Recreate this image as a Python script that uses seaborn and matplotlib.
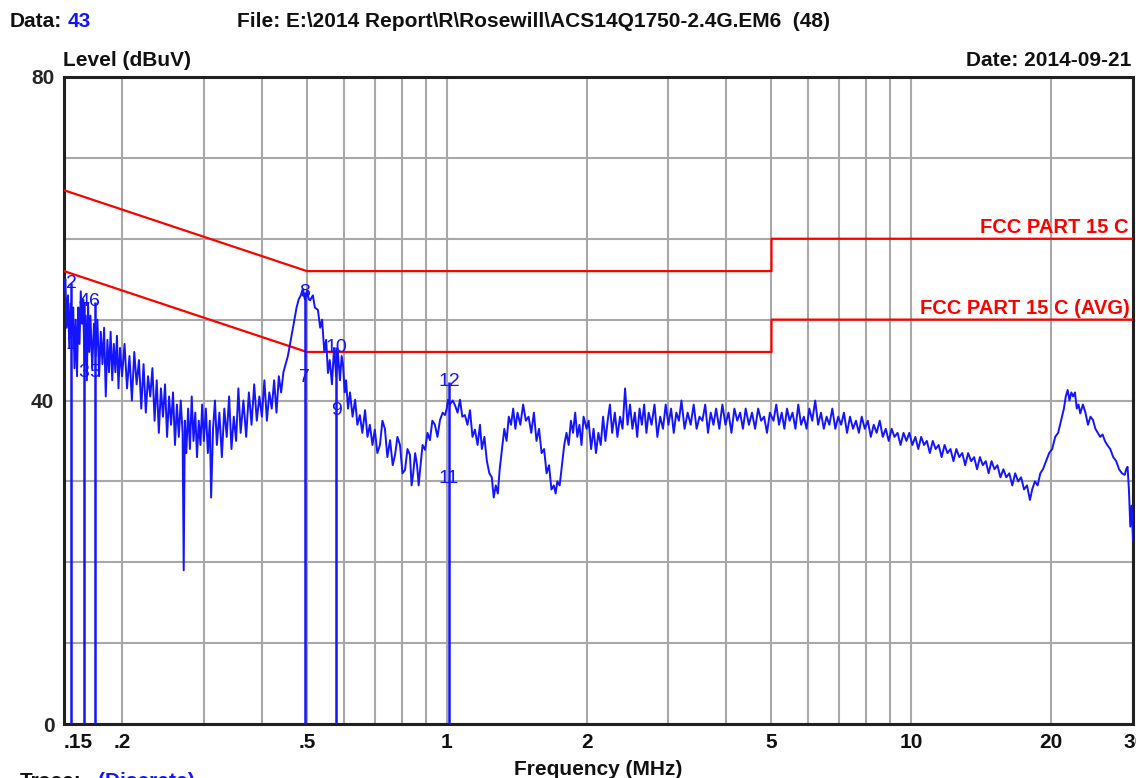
import matplotlib
matplotlib.use("Agg")
import matplotlib.pyplot as plt
from matplotlib.ticker import NullLocator
import numpy as np
import pandas as pd
import seaborn as sns

# ---------------- data ----------------
# trace segment 0.15 - 0.2 MHz
seg1_freq = [0.1500, 0.1510, 0.1520, 0.1530, 0.1540, 0.1550, 0.1560, 0.1570, 0.1580, 0.1590,
             0.1600, 0.1610, 0.1620, 0.1630, 0.1640, 0.1650, 0.1660, 0.1670, 0.1680, 0.1690,
             0.1700, 0.1710, 0.1725, 0.1740, 0.1755, 0.1770, 0.1785, 0.1800, 0.1815, 0.1830,
             0.1845, 0.1860, 0.1875, 0.1890, 0.1905, 0.1920, 0.1935, 0.1950, 0.1965, 0.1980, 0.2000]
seg1_level = [53.5, 55.0, 49.0, 53.0, 46.5, 52.0, 48.0, 51.5, 44.0, 50.0,
              43.0, 51.5, 47.0, 53.5, 49.5, 52.5, 44.5, 50.5, 42.5, 52.0,
              46.0, 50.5, 44.0, 49.5, 45.5, 50.0, 43.0, 48.5, 44.5, 49.0,
              40.5, 47.5, 43.5, 48.5, 42.5, 47.0, 43.5, 48.0, 41.5, 46.5, 43.0]

# trace segment 0.2 - 0.3 MHz
seg2_freq = [0.2025, 0.2050, 0.2075, 0.2100, 0.2125, 0.2150, 0.2175, 0.2200, 0.2225, 0.2250,
             0.2275, 0.2300, 0.2325, 0.2350, 0.2375, 0.2400, 0.2425, 0.2450, 0.2475, 0.2500,
             0.2525, 0.2550, 0.2575, 0.2600, 0.2625, 0.2650, 0.2675, 0.2700, 0.2715, 0.2730,
             0.2750, 0.2775, 0.2800, 0.2825, 0.2850, 0.2875, 0.2900, 0.2925, 0.2950, 0.2975, 0.3000]
seg2_level = [47.0, 41.5, 45.5, 40.0, 46.0, 42.0, 45.0, 39.0, 44.5, 38.5,
              43.0, 40.5, 44.0, 37.5, 42.5, 36.0, 41.5, 38.0, 42.0, 35.5,
              40.5, 37.0, 41.0, 34.5, 39.5, 35.5, 40.0, 36.0, 19.0, 37.5,
              33.5, 39.0, 34.0, 40.5, 35.0, 38.5, 33.0, 37.5, 34.5, 39.5, 35.0]

# trace segment 0.3 - 0.51 MHz
seg3_freq = [0.303, 0.306, 0.309, 0.311, 0.314, 0.317, 0.320, 0.324, 0.328, 0.332,
             0.336, 0.340, 0.344, 0.348, 0.352, 0.356, 0.360, 0.365, 0.370, 0.375,
             0.380, 0.385, 0.390, 0.395, 0.400, 0.405, 0.410, 0.415, 0.420, 0.425,
             0.430, 0.435, 0.440, 0.445, 0.450, 0.455, 0.460, 0.465, 0.470, 0.475,
             0.480, 0.485, 0.490, 0.495, 0.500, 0.505]
seg3_level = [39.0, 33.5, 37.5, 28.0, 36.5, 40.0, 34.5, 38.5, 33.0, 39.0,
              35.5, 40.5, 34.0, 38.0, 35.0, 41.5, 36.0, 40.0, 35.5, 41.0,
              37.0, 42.0, 37.5, 40.5, 38.0, 42.5, 37.5, 41.0, 39.0, 42.5,
              38.5, 43.0, 41.0, 43.5, 44.5, 45.5, 47.0, 48.5, 50.0, 51.5,
              52.5, 53.0, 53.8, 52.5, 53.5, 52.5]

# trace segment 0.51 - 1.18 MHz
seg4_freq = [0.508, 0.515, 0.520, 0.528, 0.534, 0.539, 0.545, 0.550, 0.555, 0.560,
             0.566, 0.572, 0.578, 0.583, 0.589, 0.594, 0.598, 0.603, 0.607, 0.613,
             0.619, 0.627, 0.635, 0.642, 0.650, 0.658, 0.667, 0.675, 0.683, 0.692,
             0.700, 0.709, 0.718, 0.727, 0.736, 0.745, 0.755, 0.765, 0.774, 0.783,
             0.793, 0.803, 0.813, 0.823, 0.833, 0.840, 0.846, 0.855, 0.863, 0.870,
             0.876, 0.887, 0.898, 0.909, 0.920, 0.931, 0.943, 0.955, 0.967, 0.980,
             0.991, 1.000, 1.006, 1.015, 1.030, 1.042, 1.055, 1.068, 1.080, 1.094,
             1.108, 1.122, 1.136, 1.150, 1.165, 1.179]
seg4_level = [52.4, 53.0, 51.5, 51.2, 49.0, 50.0, 46.0, 47.5, 43.4, 45.0,
              42.0, 46.5, 43.0, 46.0, 42.5, 45.5, 44.4, 41.0, 42.5, 39.0,
              41.0, 38.0, 40.1, 37.0, 38.2, 36.0, 38.8, 35.5, 37.0, 34.5,
              36.4, 33.5, 34.5, 37.5, 36.5, 33.0, 35.1, 32.0, 33.3, 35.5,
              34.5, 31.0, 31.4, 34.0, 33.3, 29.5, 30.8, 33.5, 32.0, 29.5,
              31.4, 34.5, 33.9, 36.0, 35.1, 37.5, 37.0, 35.5, 37.6, 38.5,
              38.2, 39.0, 40.1, 39.5, 40.0, 39.4, 38.5, 40.1, 38.0, 38.2,
              37.0, 38.8, 35.5, 36.4, 34.5, 37.0]

# trace segment 1.19 - 2 MHz
seg5_freq = [1.190, 1.205, 1.220, 1.235, 1.250, 1.262, 1.275, 1.288, 1.300, 1.315,
             1.330, 1.345, 1.360, 1.375, 1.390, 1.405, 1.420, 1.440, 1.460, 1.480,
             1.500, 1.520, 1.540, 1.560, 1.580, 1.600, 1.620, 1.640, 1.660, 1.680,
             1.700, 1.715, 1.730, 1.750, 1.770, 1.790, 1.810, 1.830, 1.850, 1.870,
             1.890, 1.910, 1.930, 1.950, 1.970, 2.000]
seg5_level = [34.0, 35.5, 32.5, 31.0, 30.5, 28.0, 29.5, 28.5, 31.5, 34.0,
              36.5, 35.0, 38.0, 37.0, 39.0, 36.5, 38.5, 37.0, 39.5, 37.5,
              38.0, 36.0, 38.5, 35.0, 36.5, 33.5, 34.0, 31.0, 32.0, 29.0,
              29.5, 28.5, 30.0, 29.5, 32.0, 34.5, 36.0, 34.5, 37.5, 36.0,
              38.5, 35.5, 37.0, 34.5, 38.0, 36.5]

# trace segment 2 - 5 MHz
seg6_freq = [2.02, 2.045, 2.07, 2.095, 2.12, 2.145, 2.17, 2.195, 2.22, 2.245,
             2.27, 2.30, 2.33, 2.36, 2.39, 2.42, 2.45, 2.48, 2.51, 2.54,
             2.57, 2.60, 2.63, 2.66, 2.69, 2.72, 2.76, 2.80, 2.84, 2.88,
             2.92, 2.96, 3.00, 3.04, 3.08, 3.12, 3.16, 3.20, 3.25, 3.30,
             3.35, 3.40, 3.45, 3.50, 3.55, 3.60, 3.65, 3.70, 3.75, 3.80,
             3.86, 3.92, 3.98, 4.04, 4.10, 4.16, 4.22, 4.28, 4.34, 4.40,
             4.47, 4.54, 4.61, 4.68, 4.75, 4.82, 4.89, 4.96]
seg6_level = [37.5, 34.0, 36.5, 33.5, 36.0, 34.5, 38.0, 35.0, 37.5, 39.5,
              36.0, 38.5, 35.5, 38.0, 36.5, 41.5, 37.0, 39.5, 36.5, 38.5,
              35.5, 39.0, 37.0, 39.5, 36.0, 38.5, 37.0, 39.5, 35.5, 38.0,
              36.5, 39.5, 37.0, 39.0, 36.0, 38.5, 37.5, 40.0, 36.5, 38.5,
              37.0, 39.5, 36.5, 38.0, 37.5, 39.5, 36.0, 38.5, 37.0, 39.0,
              36.5, 39.5, 37.0, 38.5, 36.0, 39.0, 37.5, 38.5, 36.5, 39.0,
              37.0, 38.5, 36.5, 39.0, 37.5, 38.0, 36.0, 38.5]

# trace segment 5 - 18 MHz
seg7_freq = [5.05, 5.12, 5.19, 5.26, 5.33, 5.40, 5.47, 5.55, 5.63, 5.71,
             5.79, 5.87, 5.95, 6.03, 6.12, 6.21, 6.30, 6.39, 6.48, 6.57,
             6.66, 6.76, 6.86, 6.96, 7.06, 7.16, 7.27, 7.38, 7.49, 7.60,
             7.71, 7.82, 7.94, 8.06, 8.18, 8.30, 8.42, 8.55, 8.68, 8.81,
             8.94, 9.07, 9.20, 9.34, 9.48, 9.62, 9.76, 9.90, 10.05, 10.2,
             10.35, 10.5, 10.65, 10.8, 10.96, 11.12, 11.28, 11.45, 11.62, 11.79,
             11.96, 12.14, 12.32, 12.5, 12.68, 12.87, 13.06, 13.25, 13.45, 13.65,
             13.85, 14.05, 14.25, 14.46, 14.67, 14.88, 15.1, 15.32, 15.55, 15.78,
             16.01, 16.25, 16.49, 16.73, 16.98, 17.23, 17.48, 17.74, 18.0]
seg7_level = [37.5, 39.5, 37.0, 38.5, 36.5, 39.0, 37.5, 38.5, 36.5, 39.5,
              37.0, 38.0, 36.5, 39.0, 37.5, 40.0, 37.0, 38.5, 36.5, 38.0,
              37.0, 39.0, 36.5, 38.0, 37.0, 38.5, 36.0, 38.0, 36.5, 37.5,
              36.0, 38.0, 36.5, 37.5, 35.5, 37.0, 36.0, 37.5, 35.5, 36.5,
              35.0, 36.5, 35.5, 36.0, 34.5, 36.0, 35.0, 36.0, 34.5, 35.5,
              34.0, 35.5, 34.5, 35.0, 33.5, 35.0, 34.0, 34.5, 33.0, 34.5,
              33.5, 34.0, 32.5, 34.0, 33.0, 33.5, 32.0, 33.5, 32.5, 33.0,
              31.5, 33.0, 32.0, 32.5, 31.0, 32.5, 31.5, 32.0, 30.5, 31.5,
              30.5, 31.0, 29.5, 31.0, 30.0, 30.5, 29.0, 29.5, 27.7]

# trace segment 18 - 30 MHz
seg8_freq = [18.2, 18.45, 18.7, 18.95, 19.2, 19.5, 19.8, 20.1, 20.4, 20.7,
             21.0, 21.3, 21.5, 21.7, 21.9, 22.1, 22.3, 22.5, 22.7, 22.9,
             23.1, 23.4, 23.7, 24.0, 24.3, 24.6, 24.9, 25.2, 25.5, 25.8,
             26.1, 26.4, 26.8, 27.2, 27.6, 28.0, 28.4, 28.8, 29.0, 29.2,
             29.4, 29.6, 29.8, 30.0]
seg8_level = [29.0, 30.0, 29.5, 31.0, 31.5, 32.5, 33.5, 34.0, 35.5, 36.0,
              37.5, 39.0, 40.5, 41.3, 40.0, 41.0, 40.5, 41.0, 39.0, 39.5,
              38.4, 39.5, 38.5, 37.0, 38.0, 37.6, 36.5, 36.0, 35.5, 35.8,
              35.0, 34.5, 34.0, 33.0, 32.5, 31.5, 31.0, 30.8, 31.5, 31.8,
              29.0, 24.4, 27.0, 22.7]

# FCC Part 15 C limit lines
limit_freq = [0.15, 0.5, 5.0, 5.0, 30.0]
limit_qp = [66.0, 56.0, 56.0, 60.0, 60.0]
limit_avg = [56.0, 46.0, 46.0, 50.0, 50.0]

# discrete markers (label, frequency, level)
marker_labels = ["1", "2", "3", "4", "5", "6", "7", "8", "9", "10", "11", "12"]
marker_freq = [0.1553, 0.1553, 0.1655, 0.1655, 0.1745, 0.1745,
               0.495, 0.495, 0.578, 0.578, 1.011, 1.011]
marker_level = [46.9, 54.5, 43.5, 52.2, 43.5, 52.2,
                42.8, 53.4, 38.8, 46.6, 30.4, 42.3]

# axis ticks
grid_freqs = [0.15, 0.2, 0.3, 0.4, 0.5, 0.6, 0.7, 0.8, 0.9, 1, 2, 3, 4, 5, 6, 7, 8, 9, 10, 20, 30]
xlabel_freqs = [0.15, 0.2, 0.5, 1, 2, 5, 10, 20, 30]
xlabel_texts = [".15", ".2", ".5", "1", "2", "5", "10", "20", "30"]
y_grid = [0, 10, 20, 30, 40, 50, 60, 70, 80]
y_labels = ["0", "", "", "", "40", "", "", "", "80"]

# ---------------- plot ----------------
sns.set_theme(style="white")
plt.rcParams["font.family"] = ["Liberation Sans", "DejaVu Sans"]

W, H = 1136, 778
fig = plt.figure(figsize=(W / 100, H / 100), dpi=100)
fig.patch.set_facecolor("white")
ax = fig.add_axes([64 / W, 1 - 724 / H, (1133 - 64) / W, (724 - 77) / H])

BLUE = "#1414ff"
RED = "#ff0000"

trace_df = pd.DataFrame({
    "freq": seg1_freq + seg2_freq + seg3_freq + seg4_freq + seg5_freq + seg6_freq + seg7_freq + seg8_freq,
    "level": seg1_level + seg2_level + seg3_level + seg4_level + seg5_level + seg6_level + seg7_level + seg8_level,
})
limit_df = pd.DataFrame({"freq": limit_freq, "qp": limit_qp, "avg": limit_avg})

ax.set_xscale("log")

sns.lineplot(data=limit_df, x="freq", y="qp", ax=ax, sort=False, estimator=None,
             color=RED, lw=1.6, zorder=3)
sns.lineplot(data=limit_df, x="freq", y="avg", ax=ax, sort=False, estimator=None,
             color=RED, lw=1.6, zorder=3)
sns.lineplot(data=trace_df, x="freq", y="level", ax=ax, sort=False, estimator=None,
             color=BLUE, lw=1.4, zorder=4)

# discrete marker stems (to the higher value of each pair)
stem_df = pd.DataFrame({"freq": marker_freq, "level": marker_level}).groupby("freq", as_index=False).max()
ax.vlines(stem_df["freq"], 0, stem_df["level"], color=BLUE, lw=1.8, zorder=5)
for lab, f, lv in zip(marker_labels, marker_freq, marker_level):
    ax.text(f, lv, lab, ha="center", va="center", color=BLUE, fontsize=14, zorder=6)

ax.set_xlim(0.15, 30)
ax.set_ylim(0, 80)
ax.set_xlabel("")
ax.set_ylabel("")

ax.set_xticks(grid_freqs)
ax.set_xticklabels([""] * len(grid_freqs))
ax.xaxis.set_minor_locator(NullLocator())
ax.set_yticks(y_grid)
ax.set_yticklabels(y_labels, fontsize=15, fontweight="bold")
ax.tick_params(axis="both", length=0)
ax.tick_params(axis="y", pad=7)
ax.grid(True, which="major", color="#a8a8a8", lw=1.5, zorder=0)
ax.set_axisbelow(True)

for sp in ax.spines.values():
    sp.set_visible(True)
    sp.set_color("#202020")
    sp.set_linewidth(2.2)

# x tick labels
xtr = ax.get_xaxis_transform()
for f, t in zip(xlabel_freqs, xlabel_texts):
    ha = "center"
    if t == ".15":
        ha = "left"
    ax.text(f * (1.0 if t != "30" else 1.01), -0.028, t, transform=xtr, ha=ha, va="center",
            fontsize=15, fontweight="bold", color="#111111", clip_on=False)

# limit labels
ax.text(29.3, 60.75, "FCC PART 15 C", ha="right", va="baseline", color=RED,
        fontsize=14.5, fontweight="bold", zorder=6)
ax.text(29.5, 50.75, "FCC PART 15 C (AVG)", ha="right", va="baseline", color=RED,
        fontsize=14.5, fontweight="bold", zorder=6)


def fx(x):
    return x / W


def fy(y):
    return 1 - y / H


TXT = "#111111"
fig.text(fx(10), fy(27), "Data:", ha="left", va="baseline", fontsize=15, fontweight="bold", color=TXT)
fig.text(fx(68), fy(27), "43", ha="left", va="baseline", fontsize=15, fontweight="bold", color=BLUE)
fig.text(fx(237), fy(27), "File: E:\\2014 Report\\R\\Rosewill\\ACS14Q1750-2.4G.EM6  (48)",
         ha="left", va="baseline", fontsize=15, fontweight="bold", color=TXT)
fig.text(fx(63), fy(66), "Level (dBuV)", ha="left", va="baseline", fontsize=15, fontweight="bold", color=TXT)
fig.text(fx(1131), fy(66), "Date: 2014-09-21", ha="right", va="baseline", fontsize=15,
         fontweight="bold", color=TXT)
fig.text(fx(598), fy(775), "Frequency (MHz)", ha="center", va="baseline", fontsize=15,
         fontweight="bold", color=TXT)
fig.text(fx(20), fy(772), "Trace:", ha="left", va="top", fontsize=15, fontweight="bold", color=TXT)
fig.text(fx(98), fy(772), "(Discrete)", ha="left", va="top", fontsize=15, fontweight="bold", color=BLUE)

fig.savefig("out.png", dpi=100, facecolor="white")
